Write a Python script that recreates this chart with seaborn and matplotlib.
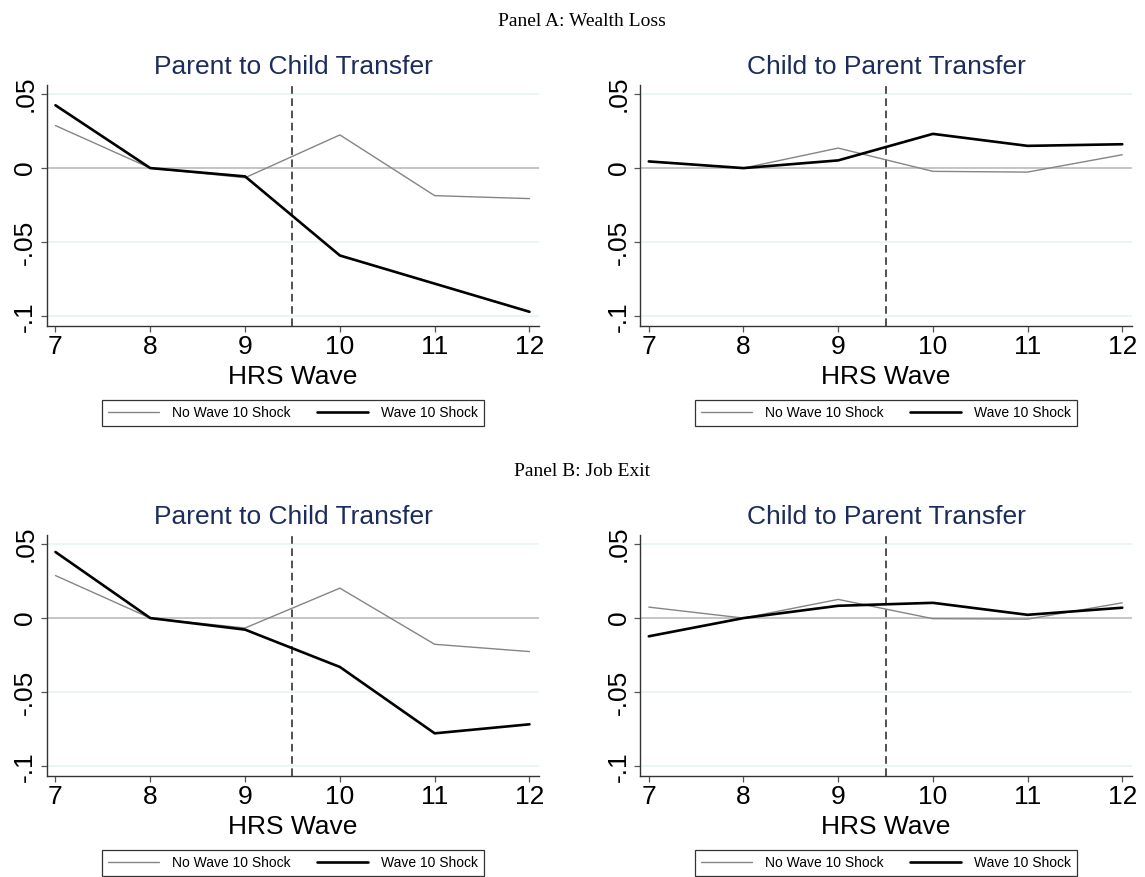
import matplotlib as mpl

mpl.use('Agg')
import matplotlib.pyplot as plt
import pandas as pd
import seaborn as sns

# HRS waves on the x axis
waves = [7, 8, 9, 10, 11, 12]

# Panel A: Wealth Loss
a_p2c_no = [0.0287, 0.0, -0.0065, 0.0224, -0.0186, -0.0206]
a_p2c_shock = [0.0424, 0.0, -0.0056, -0.0590, -0.0780, -0.0970]
a_c2p_no = [0.0045, 0.0, 0.0135, -0.0022, -0.0027, 0.0090]
a_c2p_shock = [0.0045, 0.0, 0.0052, 0.0231, 0.0150, 0.0161]

# Panel B: Job Exit
b_p2c_no = [0.0287, 0.0, -0.0067, 0.0202, -0.0177, -0.0226]
b_p2c_shock = [0.0446, 0.0, -0.0078, -0.0330, -0.0778, -0.0717]
b_c2p_no = [0.0074, 0.0, 0.0126, -0.0004, -0.0007, 0.0103]
b_c2p_shock = [-0.0123, 0.0, 0.0083, 0.0103, 0.0022, 0.0070]

y_ticks = [-0.1, -0.05, 0, 0.05]
y_tick_labels = ['-.1', '-.05', '0', '.05']
group_names = ['No Wave 10 Shock', 'Wave 10 Shock']

sns.set_style('white')
plt.rcParams['font.family'] = ['Liberation Sans', 'DejaVu Sans']
plt.rcParams['text.color'] = 'black'
plt.rcParams['axes.labelcolor'] = 'black'
plt.rcParams['xtick.labelcolor'] = 'black'
plt.rcParams['ytick.labelcolor'] = 'black'

TITLE_COLOR = '#1c2c5b'
GRID_COLOR = '#eaf2f2'
ZERO_COLOR = '#bdbdbd'
SPINE_COLOR = '#333333'


def make_frame(no_shock, shock):
    return pd.DataFrame({
        'wave': waves * 2,
        'coef': no_shock + shock,
        'group': [group_names[0]] * len(waves) + [group_names[1]] * len(waves),
    })


def draw_panel(ax, df, title):
    sns.lineplot(data=df, x='wave', y='coef', hue='group', size='group',
                 palette={group_names[0]: '#858585', group_names[1]: '#000000'},
                 sizes={group_names[0]: 1.0, group_names[1]: 1.9},
                 hue_order=group_names, size_order=group_names,
                 legend=False, ax=ax, zorder=3)
    ax.set_xlim(6.91, 12.1)
    ax.set_ylim(-0.1064, 0.0561)
    ax.set_xticks(waves)
    ax.set_xticklabels([str(w) for w in waves])
    ax.set_yticks(y_ticks)
    ax.set_yticklabels(y_tick_labels, rotation=90, va='center')
    ax.yaxis.grid(True, color=GRID_COLOR, lw=1.2, zorder=0)
    ax.axhline(0, color=ZERO_COLOR, lw=1.2, zorder=1)
    ax.axvline(9.5, color='#222222', lw=1.1, ls=(0, (5, 3)), zorder=2)

    ax.spines['right'].set_visible(False)
    ax.spines['top'].set_visible(False)
    for side in ['left', 'bottom']:
        ax.spines[side].set_color(SPINE_COLOR)
        ax.spines[side].set_linewidth(1.0)
    ax.tick_params(axis='both', which='major', length=4, width=0.9,
                   color='#555555', labelsize=19, pad=3,
                   labelcolor='black', left=True, bottom=True)

    ax.set_title(title, fontsize=19, color=TITLE_COLOR, pad=8)
    ax.set_xlabel('HRS Wave', fontsize=19, labelpad=4, color='black')
    ax.set_ylabel('')

    handles = ax.get_lines()[:2]
    leg = ax.legend(handles, group_names, loc='center',
                    bbox_to_anchor=(0.5, -0.363), ncol=2, fontsize=10,
                    frameon=True, fancybox=False, edgecolor='black',
                    handlelength=3.7, columnspacing=1.9, handletextpad=0.9,
                    borderpad=0.45)
    leg.get_frame().set_linewidth(0.9)
    for txt in leg.get_texts():
        txt.set_color('black')


figure = plt.figure(figsize=(11.45, 8.77), dpi=100)

ax_w = 0.4297
ax_h = 0.2745
positions = {
    'a_left': [0.0410, 0.6286, ax_w, ax_h],
    'a_right': [0.5592, 0.6286, 0.4292, ax_h],
    'b_left': [0.0410, 0.1155, ax_w, ax_h],
    'b_right': [0.5592, 0.1155, 0.4292, ax_h],
}

draw_panel(figure.add_axes(positions['a_left']),
           make_frame(a_p2c_no, a_p2c_shock), 'Parent to Child Transfer')
draw_panel(figure.add_axes(positions['a_right']),
           make_frame(a_c2p_no, a_c2p_shock), 'Child to Parent Transfer')
draw_panel(figure.add_axes(positions['b_left']),
           make_frame(b_p2c_no, b_p2c_shock), 'Parent to Child Transfer')
draw_panel(figure.add_axes(positions['b_right']),
           make_frame(b_c2p_no, b_c2p_shock), 'Child to Parent Transfer')

figure.text(0.508, 1 - 21 / 877, 'Panel A: Wealth Loss', ha='center',
            va='center', fontsize=14, color='black',
            family=['Liberation Serif', 'DejaVu Serif'])
figure.text(0.508, 1 - 471 / 877, 'Panel B: Job Exit', ha='center',
            va='center', fontsize=14, color='black',
            family=['Liberation Serif', 'DejaVu Serif'])

figure.savefig('out.png', dpi=100)
